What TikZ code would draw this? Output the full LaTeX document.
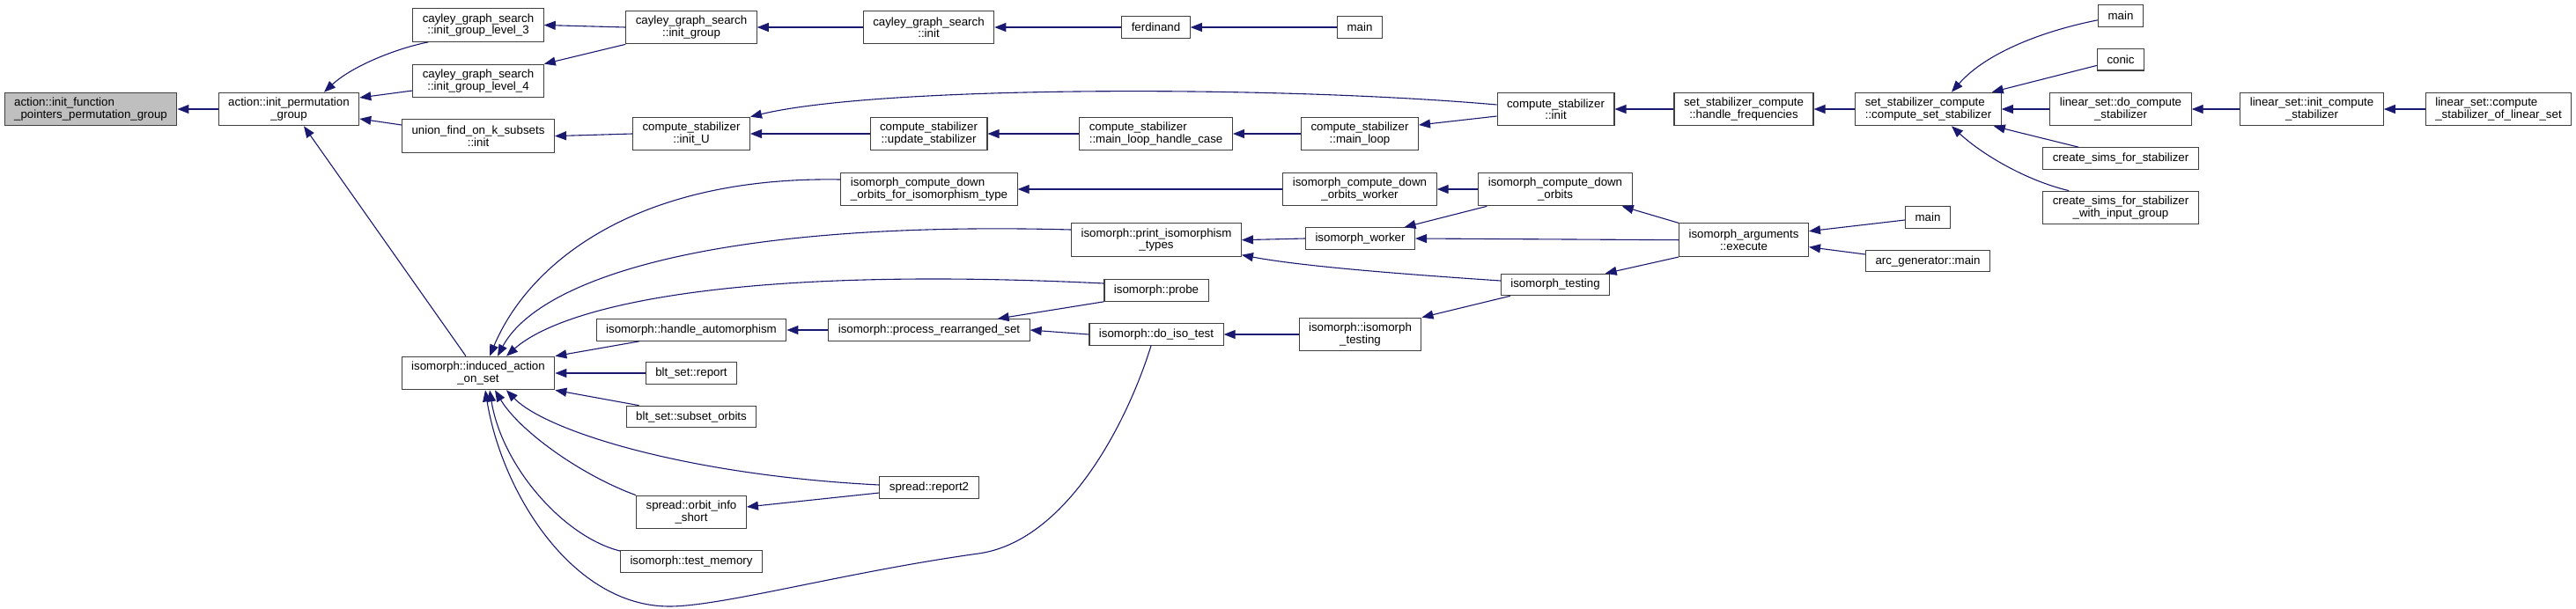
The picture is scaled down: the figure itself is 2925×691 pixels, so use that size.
\documentclass[tikz,border=0pt]{standalone}
\usepackage{fontspec}
\setmainfont{Liberation Sans}
\usetikzlibrary{arrows.meta}
\definecolor{EdgeClr}{rgb}{0.098,0.098,0.439}
\definecolor{RootClr}{rgb}{0.749,0.749,0.749}
\definecolor{LineClr}{rgb}{0.25,0.25,0.25}

\begin{document}
\begin{tikzpicture}[x=1pt,y=-1pt,
  fn/.style={draw=LineClr,line width=1.1pt,fill=white,inner xsep=11pt,inner ysep=0pt,minimum height=24.5pt,font=\fontsize{13.3}{13.3}\selectfont},
  fnt/.style={fn,minimum height=37.6pt,align=center},
  fntl/.style={fnt,align=left},
  call/.style={draw=EdgeClr,line width=1.1pt,{Triangle[length=13pt,width=10pt]}-}]
\useasboundingbox (0,0) rectangle (2925,691);

\node[fntl,fill=RootClr] (A0) at (103,124) {action::init\_function\\\_pointers\_permutation\_group};
\node[fnt] (P) at (328,124) {action::init\_permutation\\\_group};
\node[fnt] (L3) at (543,28.5) {cayley\_graph\_search\\::init\_group\_level\_3};
\node[fnt] (L4) at (543,92) {cayley\_graph\_search\\::init\_group\_level\_4};
\node[fnt] (U) at (543,154.6) {union\_find\_on\_k\_subsets\\::init};
\node[fnt] (I) at (543,424) {isomorph::induced\_action\\\_on\_set};
\node[fnt] (G) at (785,31) {cayley\_graph\_search\\::init\_group};
\node[fnt] (CU) at (785,152) {compute\_stabilizer\\::init\_U};
\node[fn] (HA) at (785,375) {isomorph::handle\_automorphism};
\node[fn] (BR) at (785,424) {blt\_set::report};
\node[fn] (BS) at (785,473.5) {blt\_set::subset\_orbits};
\node[fnt] (OI) at (785,582) {spread::orbit\_info\\\_short};
\node[fn] (TM) at (785,638) {isomorph::test\_memory};
\node[fnt] (CI) at (1054.5,31) {cayley\_graph\_search\\::init};
\node[fnt] (US) at (1054.5,152) {compute\_stabilizer\\::update\_stabilizer};
\node[fntl] (DT) at (1055,215) {isomorph\_compute\_down\\\_orbits\_for\_isomorphism\_type};
\node[fn] (PR) at (1055,375) {isomorph::process\_rearranged\_set};
\node[fn] (R2) at (1055,554) {spread::report2};
\node[fn] (F) at (1312.5,31) {ferdinand};
\node[fntl] (MC) at (1312.6,152) {compute\_stabilizer\\::main\_loop\_handle\_case};
\node[fnt] (PT) at (1313,272.7) {isomorph::print\_isomorphism\\\_types};
\node[fn] (PB) at (1313,330) {isomorph::probe};
\node[fn] (DI) at (1313,380) {isomorph::do\_iso\_test};
\node[fn] (M1) at (1544,31) {main};
\node[fnt] (ML) at (1544,152) {compute\_stabilizer\\::main\_loop};
\node[fnt] (DW) at (1544,215) {isomorph\_compute\_down\\\_orbits\_worker};
\node[fn] (W) at (1544.5,271) {isomorph\_worker};
\node[fnt] (IT) at (1544.5,380) {isomorph::isomorph\\\_testing};
\node[fnt] (CS) at (1766.5,124) {compute\_stabilizer\\::init};
\node[fnt] (DO) at (1766,215) {isomorph\_compute\_down\\\_orbits};
\node[fn] (T) at (1766,323.5) {isomorph\_testing};
\node[fnt] (HF) at (1980,124) {set\_stabilizer\_compute\\::handle\_frequencies};
\node[fnt] (E) at (1980,272.7) {isomorph\_arguments\\::execute};
\node[fntl] (SS) at (2189.5,124) {set\_stabilizer\_compute\\::compute\_set\_stabilizer};
\node[fn] (M3) at (2189,247) {main};
\node[fn] (AG) at (2189,296.6) {arc\_generator::main};
\node[fn] (M2) at (2408,17.8) {main};
\node[fn] (C) at (2408,67.7) {conic};
\node[fnt] (LD) at (2408,124) {linear\_set::do\_compute\\\_stabilizer};
\node[fn] (CF) at (2408,180) {create\_sims\_for\_stabilizer};
\node[fnt] (CW) at (2408,236) {create\_sims\_for\_stabilizer\\\_with\_input\_group};
\node[fnt] (LI) at (2625,124) {linear\_set::init\_compute\\\_stabilizer};
\node[fntl] (LC) at (2837,124) {linear\_set::compute\\\_stabilizer\_of\_linear\_set};

\draw[call] (A0.east) -- (P.west);
\draw[call] ([xshift=40pt]P.north) .. controls (400,75) and (450,55) .. ([xshift=18pt]L3.south west);
\draw[call] ([yshift=13pt]P.east) -- ([yshift=-11pt]L4.west);
\draw[call] ([yshift=-11pt]P.east) -- ([yshift=12.6pt]U.west);
\draw[call] ([xshift=17pt]P.south) -- ([xshift=-14pt]I.north);
\draw[call] (L3.east) -- (G.west);
\draw[call] (L4.north east) -- (G.south west);
\draw[call] (G.east) -- (CI.west);
\draw[call] (CI.east) -- (F.west);
\draw[call] (F.east) -- (M1.west);
\draw[call] (U.east) -- (CU.west);
\draw[call] (CU.north east) .. controls (1000,97) and (1450,97) .. ([yshift=5pt]CS.west);
\draw[call] (CU.east) -- (US.west);
\draw[call] (US.east) -- (MC.west);
\draw[call] (MC.east) -- (ML.west);
\draw[call] ([yshift=10pt]ML.east) -- ([yshift=-8pt]CS.west);
\draw[call] (CS.east) -- (HF.west);
\draw[call] (HF.east) -- (SS.west);
\draw[call] ([xshift=26.5pt]SS.north) .. controls (2255,60) and (2320,35) .. ([yshift=-5pt]M2.west);
\draw[call] ([xshift=-11pt]SS.north east) -- ([yshift=-6.7pt]C.west);
\draw[call] (SS.east) -- (LD.west);
\draw[call] ([xshift=-9pt]SS.south east) -- ([xshift=41pt]CF.north west);
\draw[call] ([xshift=26.5pt]SS.south) .. controls (2250,175) and (2300,205) .. ([xshift=30pt]CW.north west);
\draw[call] (LD.east) -- (LI.west);
\draw[call] (LI.east) -- (LC.west);
\draw[call] ([xshift=13pt]I.north) .. controls (600,300) and (720,200) .. ([yshift=11pt]DT.west);
\draw[call] ([xshift=22pt]I.north) .. controls (610,320) and (800,250) .. ([yshift=11.7pt]PT.west);
\draw[call] ([xshift=32pt]I.north) .. controls (630,355) and (800,300) .. ([yshift=8pt]PB.west);
\draw[call] (I.north east) -- ([xshift=49.5pt]HA.south west);
\draw[call] (I.east) -- (BR.west);
\draw[call] (I.south east) -- ([xshift=15pt]BS.north west);
\draw[call] ([xshift=32pt]I.south) .. controls (620,490) and (780,540) .. ([yshift=3pt]R2.west);
\draw[call] ([xshift=19pt]I.south) .. controls (590,490) and (660,540) .. (OI.north west);
\draw[call] ([xshift=13pt]I.south) .. controls (570,530) and (640,610) .. ([yshift=12pt]TM.west);
\draw[call] ([xshift=8pt]I.south) .. controls (570,560) and (650,689) .. (760,689) .. controls (820,689) and (960,650) .. (1111,629) .. controls (1211,615) and (1280,480) .. ([xshift=-6pt]DI.south);
\draw[call] (HA.east) -- (PR.west);
\draw[call] ([xshift=-37pt]PR.north east) -- (PB.south west);
\draw[call] (PR.east) -- (DI.west);
\draw[call] (DI.east) -- (IT.west);
\draw[call] (IT.north east) -- ([xshift=11pt]T.south west);
\draw[call] (DT.east) -- (DW.west);
\draw[call] (DW.east) -- (DO.west);
\draw[call] ([xshift=50pt]W.north) -- ([xshift=10pt]DO.south west);
\draw[call] (PT.east) -- (W.west);
\draw[call] ([yshift=-17pt]PT.east) .. controls (1480,303) and (1600,312) .. ([yshift=4.5pt]T.west);
\draw[call] ([xshift=-12pt]DO.south east) -- (E.north west);
\draw[call] (W.east) -- (E.west);
\draw[call] ([xshift=-5.5pt]T.north east) -- (E.south west);
\draw[call] ([yshift=10pt]E.east) -- ([yshift=-3pt]M3.west);
\draw[call] ([yshift=-8pt]E.east) -- ([yshift=7.6pt]AG.west);
\draw[call] ([yshift=6pt]OI.east) -- ([yshift=-6pt]R2.west);

\end{tikzpicture}
\end{document}
